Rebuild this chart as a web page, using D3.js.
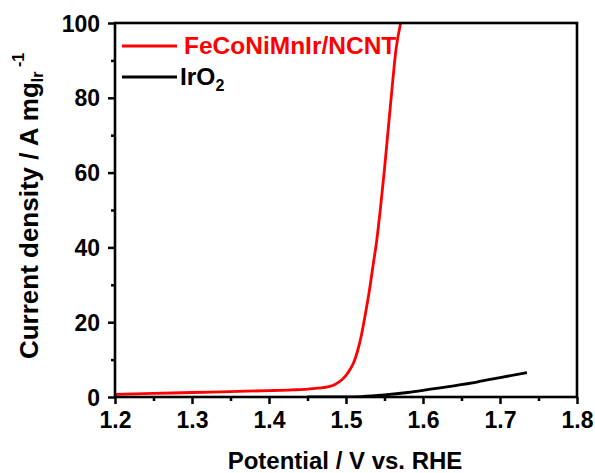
<!DOCTYPE html>
<html>
<head>
<meta charset="utf-8">
<script src="https://cdn.jsdelivr.net/npm/d3@7"></script>
<style>
  html, body { margin: 0; padding: 0; background: #fff; }
  svg { display: block; font-family: "Liberation Sans", Arial, sans-serif; }
</style>
</head>
<body>
<svg id="chart" width="595" height="473"></svg>
<script>
// ---- data ----
const seriesNames = ["FeCoNiMnIr/NCNT", "IrO2"];
const seriesColors = ["#ff0000", "#000000"];

const redPotential = [1.20, 1.25, 1.30, 1.35, 1.40, 1.43, 1.45, 1.46, 1.47, 1.48, 1.485, 1.49, 1.495, 1.50, 1.505, 1.51, 1.515, 1.52, 1.525, 1.53, 1.535, 1.54, 1.545, 1.55, 1.555, 1.56, 1.565, 1.571];
const redCurrent   = [0.7, 0.95, 1.2, 1.45, 1.7, 1.9, 2.1, 2.3, 2.5, 2.9, 3.3, 3.9, 4.7, 5.8, 7.3, 9.2, 12.3, 16.5, 22, 28, 35, 42, 51, 61, 72, 83, 93, 100];

const blackPotential = [1.45, 1.48, 1.50, 1.52, 1.55, 1.58, 1.61, 1.64, 1.67, 1.70, 1.735];
const blackCurrent   = [0.0, 0.0, 0.02, 0.12, 0.55, 1.2, 2.1, 3.0, 4.0, 5.2, 6.5];

const xTicks = [1.2, 1.3, 1.4, 1.5, 1.6, 1.7, 1.8];
const xMinor = [1.25, 1.35, 1.45, 1.55, 1.65, 1.75];
const yTicks = [0, 20, 40, 60, 80, 100];
const yMinor = [10, 30, 50, 70, 90];

// ---- layout ----
const svg = d3.select("#chart");
const L = 115, R = 577, T = 23, B = 397;

const x = d3.scaleLinear().domain([1.2, 1.8]).range([L, R]);
const y = d3.scaleLinear().domain([0, 100]).range([B, T]);

svg.append("defs").append("clipPath").attr("id", "plotclip")
  .append("rect").attr("x", L).attr("y", T).attr("width", R - L).attr("height", B - T);

// data lines
const line = d3.line().x(d => x(d[0])).y(d => y(d[1])).curve(d3.curveMonotoneX);
const g = svg.append("g").attr("clip-path", "url(#plotclip)");
g.append("path")
  .datum(blackPotential.map((v, i) => [v, blackCurrent[i]]))
  .attr("d", line).attr("fill", "none").attr("stroke", seriesColors[1]).attr("stroke-width", 2.8);
g.append("path")
  .datum(redPotential.map((v, i) => [v, redCurrent[i]]))
  .attr("d", line).attr("fill", "none").attr("stroke", seriesColors[0]).attr("stroke-width", 2.8);

// axes
const xAxis = d3.axisBottom(x).tickValues(xTicks).tickSize(7).tickFormat(d3.format(".1f"));
const yAxis = d3.axisLeft(y).tickValues(yTicks).tickSize(7).tickFormat(d3.format("d"));
const xMin = d3.axisBottom(x).tickValues(xMinor).tickSize(4).tickFormat("");
const yMin = d3.axisLeft(y).tickValues(yMinor).tickSize(4).tickFormat("");

function styleAxis(sel) {
  sel.select(".domain").remove();
  sel.selectAll("line").attr("stroke", "#000").attr("stroke-width", 2.5);
  sel.selectAll("text").attr("fill", "#000").attr("font-size", 23).attr("font-weight", "bold");
}
const gx = svg.append("g").attr("transform", `translate(0,${B})`).call(xAxis).call(styleAxis);
gx.selectAll("text").attr("dy", null).attr("y", 31);
svg.append("g").attr("transform", `translate(0,${B})`).call(xMin).call(styleAxis);
const gy = svg.append("g").attr("transform", `translate(${L},0)`).call(yAxis).call(styleAxis);
gy.selectAll("text").attr("dy", "0.35em").attr("x", -15);
svg.append("g").attr("transform", `translate(${L},0)`).call(yMin).call(styleAxis);

// frame
svg.append("rect").attr("x", L).attr("y", T).attr("width", R - L).attr("height", B - T)
  .attr("fill", "none").attr("stroke", "#000").attr("stroke-width", 2.6);

// axis titles
svg.append("text").attr("x", 345).attr("y", 469).attr("text-anchor", "middle")
  .attr("font-size", 24).attr("font-weight", "bold").attr("fill", "#000")
  .text("Potential / V vs. RHE");

const yt = svg.append("text").attr("transform", "translate(38,206) rotate(-90)")
  .attr("text-anchor", "middle").attr("font-size", 26).attr("font-weight", "bold").attr("fill", "#000");
yt.append("tspan").text("Current density / A mg");
yt.append("tspan").attr("font-size", 16).attr("dy", 5).text("Ir");
yt.append("tspan").attr("font-size", 16).attr("dy", -19).text(" -1");

// legend
const leg = svg.append("g");
leg.append("line").attr("x1", 122).attr("x2", 177).attr("y1", 46).attr("y2", 46)
  .attr("stroke", seriesColors[0]).attr("stroke-width", 2.8);
leg.append("text").attr("x", 184).attr("y", 54).attr("font-size", 24.5).attr("font-weight", "bold")
  .attr("fill", seriesColors[0]).text(seriesNames[0]);
leg.append("line").attr("x1", 122).attr("x2", 177).attr("y1", 77).attr("y2", 77)
  .attr("stroke", seriesColors[1]).attr("stroke-width", 2.8);
const t2 = leg.append("text").attr("x", 180).attr("y", 85).attr("font-size", 24.5).attr("font-weight", "bold")
  .attr("fill", seriesColors[1]);
t2.append("tspan").text("IrO");
t2.append("tspan").attr("font-size", 16).attr("dy", 6).text("2");
</script>
</body>
</html>
